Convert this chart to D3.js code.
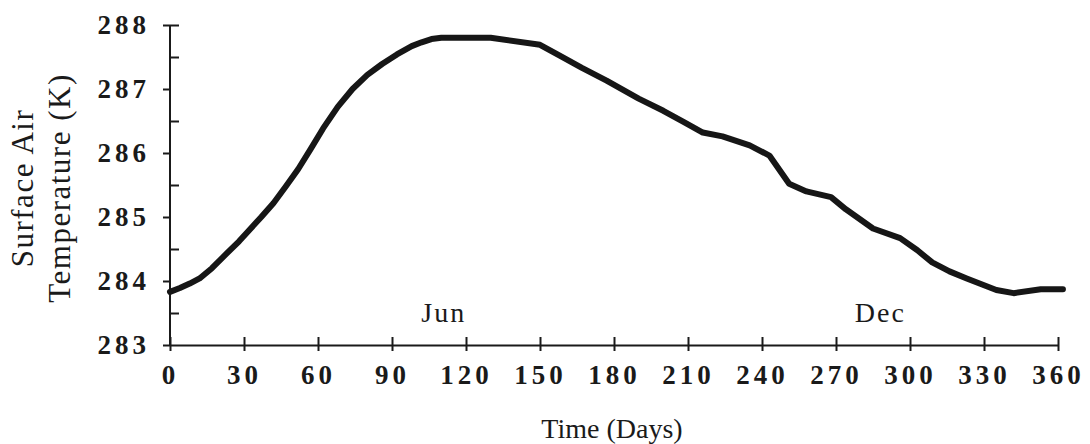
<!DOCTYPE html>
<html>
<head>
<meta charset="utf-8">
<script src="https://cdn.jsdelivr.net/npm/d3@7"></script>
<style>
  body { margin: 0; background: #fff; }
  svg { display: block; }
  .axis path, .axis line { stroke: #1a1a1a; stroke-width: 2; }
  .axis text { font-family: "Liberation Serif", serif; font-weight: bold; fill: #1a1a1a; }
  .lbl { font-family: "Liberation Serif", serif; fill: #1a1a1a; }
</style>
</head>
<body>
<svg width="1090" height="444"></svg>
<script>
// day of year and surface air temperature (K)
var days  = [0, 4, 8, 12, 17, 23, 28, 32, 37, 42, 47, 52, 57, 62, 68, 74, 80, 86, 92, 98, 102, 106, 110, 130, 150,
             158, 167, 177, 190, 200, 208, 216, 224, 235, 243, 251, 258, 268, 274, 285, 296, 303, 309, 316, 323, 335, 342, 353, 362];
var temps = [283.83, 283.89, 283.96, 284.04, 284.2, 284.43, 284.62, 284.79, 285.0, 285.22, 285.48, 285.75, 286.06, 286.38, 286.72, 287.0, 287.22, 287.39, 287.54, 287.67, 287.73, 287.78, 287.80, 287.80, 287.69,
             287.52, 287.33, 287.13, 286.85, 286.66, 286.49, 286.32, 286.26, 286.12, 285.96, 285.52, 285.40, 285.31, 285.12, 284.82, 284.67, 284.48, 284.29, 284.15, 284.04, 283.86, 283.81, 283.87, 283.87];

var xTicks = [0, 30, 60, 90, 120, 150, 180, 210, 240, 270, 300, 330, 360];
var yTicks = [283, 284, 285, 286, 287, 288];
var yMinor = [283.5, 284.5, 285.5, 286.5, 287.5, 288];
var months = [{name: "Jun", day: 111}, {name: "Dec", day: 288}];

var svg = d3.select("svg");

var x = d3.scaleLinear().domain([0, 360]).range([170, 1058]);
var y = d3.scaleLinear().domain([283, 288]).range([345, 25]);

// y axis: labelled ticks to the left, half-degree ticks to the right
var yAxis = svg.append("g")
    .attr("class", "axis")
    .attr("transform", "translate(170,0)")
    .call(d3.axisLeft(y).tickValues(yTicks).tickSize(7).tickPadding(13).tickFormat(d3.format("d")));
yAxis.select(".domain").remove();
yAxis.selectAll("text").style("font-size", "27px").style("letter-spacing", "4px");

svg.append("g")
    .attr("class", "axis")
    .attr("transform", "translate(170,0)")
    .call(d3.axisRight(y).tickValues(yMinor).tickSize(9).tickFormat(""))
    .select(".domain").remove();

svg.append("line")
    .attr("x1", 170).attr("x2", 170)
    .attr("y1", y(288)).attr("y2", y(283))
    .attr("stroke", "#1a1a1a").attr("stroke-width", 2);

// x axis: ticks cross the line
var xAxis = svg.append("g")
    .attr("class", "axis")
    .attr("transform", "translate(0,345)")
    .call(d3.axisBottom(x).tickValues(xTicks).tickSize(6).tickPadding(14).tickSizeOuter(0));
xAxis.selectAll("text").style("font-size", "27px").style("letter-spacing", "4px");

svg.append("g")
    .attr("class", "axis")
    .attr("transform", "translate(0,345)")
    .call(d3.axisTop(x).tickValues(xTicks).tickSize(8).tickFormat(""))
    .select(".domain").remove();

// temperature curve
var line = d3.line()
    .x(function(d, i) { return x(days[i]); })
    .y(function(d) { return y(d); });

svg.append("path")
    .datum(temps)
    .attr("d", line)
    .attr("fill", "none")
    .attr("stroke", "#161616")
    .attr("stroke-width", 6)
    .attr("stroke-linejoin", "round")
    .attr("stroke-linecap", "round");

// month markers
svg.selectAll(".month")
    .data(months)
  .enter().append("text")
    .attr("class", "lbl month")
    .attr("x", function(d) { return x(d.day); })
    .attr("y", 322)
    .attr("text-anchor", "middle")
    .style("font-size", "28px")
    .style("letter-spacing", "2px")
    .text(function(d) { return d.name; });

// axis titles
svg.append("text")
    .attr("class", "lbl")
    .attr("x", 612).attr("y", 438)
    .attr("text-anchor", "middle")
    .style("font-size", "28px")
    .text("Time (Days)");

var yTitle = svg.append("text")
    .attr("class", "lbl")
    .attr("transform", "translate(0,188) rotate(-90)")
    .attr("text-anchor", "middle")
    .style("font-size", "31px")
    .style("letter-spacing", "1.5px");
yTitle.append("tspan").attr("x", 0).attr("y", 33).text("Surface  Air");
yTitle.append("tspan").attr("x", 0).attr("y", 70).text("Temperature (K)");
</script>
</body>
</html>
